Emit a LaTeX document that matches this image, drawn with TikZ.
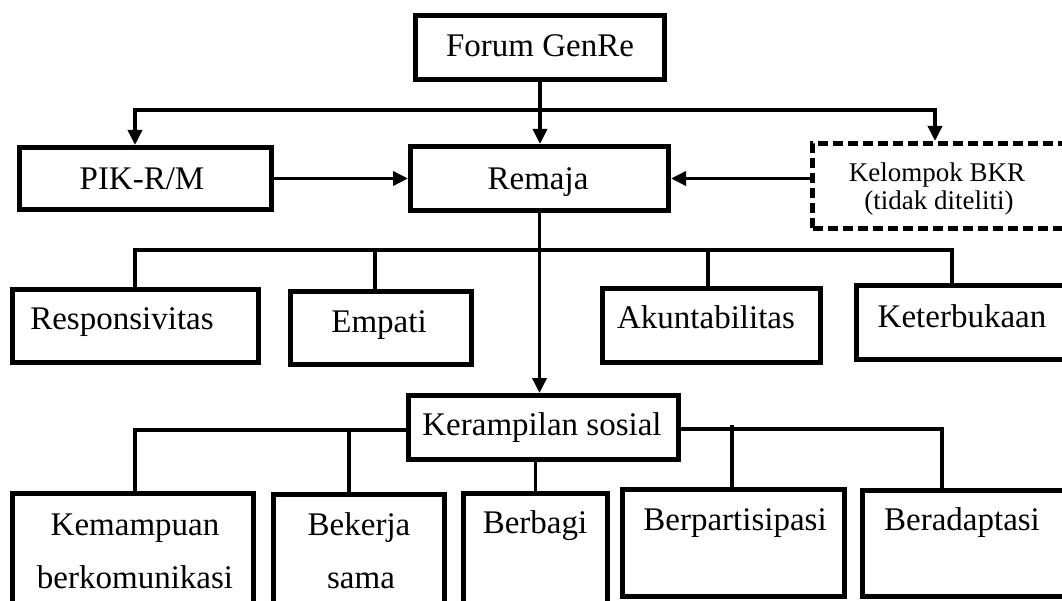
\documentclass[tikz,border=0pt]{standalone}
\usepackage{fontspec}
\setmainfont{Liberation Serif}
\usetikzlibrary{arrows.meta}
\begin{document}
\begin{tikzpicture}[x=1pt,y=-1pt,
  box/.style={draw, line width=5pt, inner sep=0pt},
  dbox/.style={draw, line width=5pt, inner sep=0pt, dash pattern=on 10pt off 5pt},
  txt/.style={font=\fontsize{33}{38}\selectfont, inner sep=0pt, anchor=base},
  stxt/.style={font=\fontsize{27}{30}\selectfont, inner sep=0pt, anchor=base},
  conn/.style={line width=3.5pt},
  arr/.style={line width=3.5pt, -{Triangle[length=15pt,width=14pt]}}]
\useasboundingbox (0,0) rectangle (1062,601);
\clip (0,0) rectangle (1062,601);
\fill[white] (0,0) rectangle (1062,601);

% level 0
\node[box, minimum width=249pt, minimum height=64pt] (forum) at (540,47.5) {};
\node[txt] (forumT) at (540,57) {Forum GenRe};

% level 1
\node[box, minimum width=252pt, minimum height=62pt] (pik) at (145.5,178.5) {};
\node[txt] (pikT) at (142,190) {PIK-R/M};
\node[box, minimum width=258pt, minimum height=64pt] (remaja) at (539.5,178.5) {};
\node[txt] (remajaT) at (538,190) {Remaja};
\node[dbox, minimum width=265pt, minimum height=85pt] (kel) at (945,186) {};
\node[stxt] (kelA) at (937,182) {Kelompok BKR};
\node[stxt] (kelB) at (939,210) {(tidak diteliti)};

% level 2
\node[box, minimum width=246pt, minimum height=73pt] (resp) at (135.5,326) {};
\node[txt] (respT) at (122,330) {Responsivitas};
\node[box, minimum width=181pt, minimum height=73pt] (emp) at (381,328) {};
\node[txt] (empT) at (379,332) {Empati};
\node[box, minimum width=218pt, minimum height=74pt] (akun) at (711.5,325.5) {};
\node[txt] (akunT) at (706,329) {Akuntabilitas};
\node[box, minimum width=211pt, minimum height=74pt] (ket) at (962,322.5) {};
\node[txt] (ketT) at (962,327) {Keterbukaan};

% level 3
\node[box, minimum width=270pt, minimum height=64pt] (keramp) at (543.5,427.5) {};
\node[txt] (kerampT) at (542,435) {Kerampilan sosial};

% level 4
\node[box, minimum width=241pt, minimum height=144pt] (kem) at (133,565.5) {};
\node[txt] (kemA) at (135,535) {Kemampuan};
\node[txt] (kemB) at (135,588) {berkomunikasi};
\node[box, minimum width=171pt, minimum height=144pt] (bek) at (359,566) {};
\node[txt] (bekA) at (359,535) {Bekerja};
\node[txt] (bekB) at (361,588) {sama};
\node[box, minimum width=144pt, minimum height=144pt] (berb) at (535.5,565.5) {};
\node[txt] (berbT) at (535,533) {Berbagi};
\node[box, minimum width=222pt, minimum height=107pt] (berp) at (733.5,543) {};
\node[txt] (berpT) at (735,530) {Berpartisipasi};
\node[box, minimum width=210pt, minimum height=106pt] (berad) at (967.5,543.5) {};
\node[txt] (beradT) at (962,530) {Beradaptasi};

% connectors level 0 -> 1
\coordinate (hL) at (135,110);
\coordinate (hR) at (935,110);
\draw[conn, line cap=rect] (hL) -- (hR);
\draw[arr] (hL) -- (hL |- pik.north);
\draw[arr] (hR) -- (hR |- kel.north);
\draw[arr] (forum.south) -- (forum.south |- remaja.north);
\draw[arr] (pik.east) -- (remaja.west);
\draw[arr] (kel.west |- remaja.east) -- (remaja.east);

% remaja -> level 2
\coordinate (r2L) at (135,250);
\coordinate (r2E) at (375,250);
\coordinate (r2A) at (708,250);
\coordinate (r2R) at (952,250);
\draw[conn, line cap=rect] (r2L) -- (r2R);
\draw[conn] (r2L) -- (r2L |- resp.north);
\draw[conn] (r2E) -- (r2E |- emp.north);
\draw[conn] (r2A) -- (r2A |- akun.north);
\draw[conn] (r2R) -- (r2R |- ket.north);
\draw[arr] (remaja.south) -- (remaja.south |- keramp.north);

% kerampilan -> level 4
\coordinate (k4L) at (135,430);
\coordinate (k4B) at (349,430);
\coordinate (k4P) at (732,429);
\coordinate (k4R) at (942,429);
\draw[conn, line cap=rect] (keramp.west |- k4L) -- (k4L) -- (k4L |- kem.north);
\draw[conn] (k4B) -- (k4B |- bek.north);
\draw[conn] (berb.north |- keramp.south) -- (berb.north);
\draw[conn, line cap=rect] (keramp.east |- k4R) -- (k4R) -- (k4R |- berad.north);
\draw[conn] (732,425) -- (k4P |- berp.north);
\end{tikzpicture}
\end{document}
